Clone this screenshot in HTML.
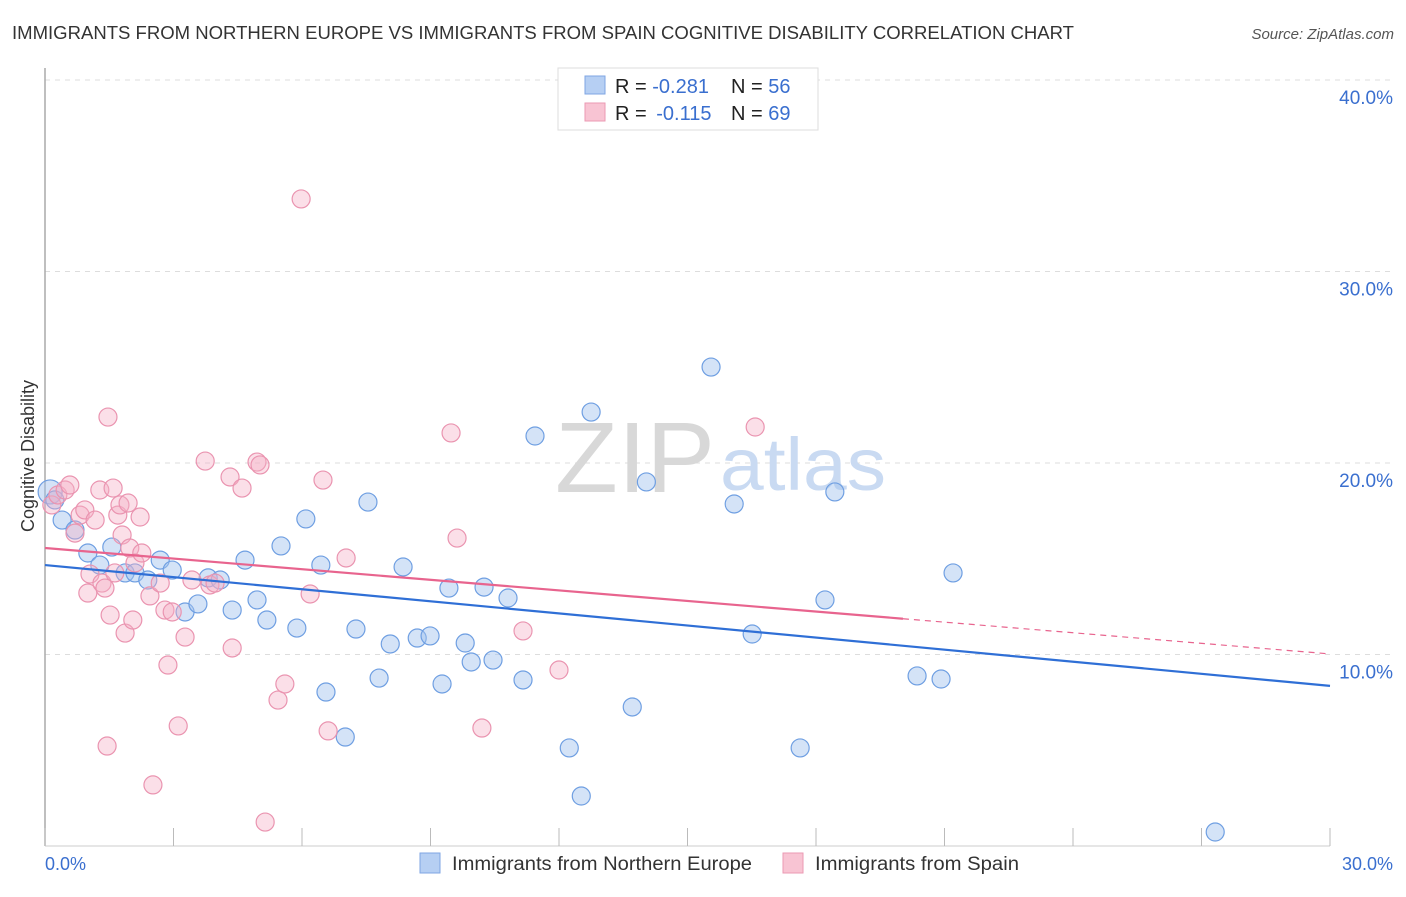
<!DOCTYPE html>
<html><head><meta charset="utf-8"><style>
body{margin:0;background:#fff;font-family:"Liberation Sans",sans-serif;}
svg text{font-family:"Liberation Sans",sans-serif;}
</style></head><body>
<svg id="chart" width="1406" height="892" viewBox="0 0 1406 892" xmlns="http://www.w3.org/2000/svg">
<text x="12" y="39" font-size="18" fill="#333" textLength="1062" lengthAdjust="spacingAndGlyphs">IMMIGRANTS FROM NORTHERN EUROPE VS IMMIGRANTS FROM SPAIN COGNITIVE DISABILITY CORRELATION CHART</text>
<text x="1394" y="39" font-size="15" fill="#555" font-style="italic" text-anchor="end">Source: ZipAtlas.com</text>
<g id="grid"></g>
<g id="watermark">
<text x="555" y="492" font-size="100" font-family="Liberation Serif" fill="#d8d8d8" textLength="160" lengthAdjust="spacingAndGlyphs">ZIP</text>
<text x="720" y="490" font-size="74" fill="#c9daf2" textLength="166" lengthAdjust="spacingAndGlyphs">atlas</text>
</g>
<line x1="45" y1="68" x2="45" y2="846" stroke="#aaa" stroke-width="1.5"/>
<line x1="45" y1="846" x2="1330" y2="846" stroke="#ccc" stroke-width="1"/>
<g id="xticks"></g>
<g id="yticks"></g>
<text x="34" y="456" font-size="18" fill="#333" text-anchor="middle" transform="rotate(-90 34 456)">Cognitive Disability</text>
<text x="45" y="870" font-size="18" fill="#3a6fcf">0.0%</text>
<text x="1393" y="870" font-size="18" fill="#3a6fcf" text-anchor="end">30.0%</text>
<g id="points"></g>
<g id="trends"></g>
<g>
<rect x="558" y="68" width="260" height="62" fill="#fff" stroke="#ddd"/>
<rect x="585" y="76" width="20" height="18" fill="#b6cff3" stroke="#7fa6e3"/>
<rect x="585" y="103" width="20" height="18" fill="#f8c4d3" stroke="#eb9ab3"/>
<text x="615" y="93" font-size="20" fill="#222">R = <tspan fill="#3a6fcf">-0.281</tspan><tspan x="731">N = </tspan><tspan fill="#3a6fcf">56</tspan></text>
<text x="615" y="120" font-size="20" fill="#222">R = <tspan fill="#3a6fcf" dx="4">-0.115</tspan><tspan x="731">N = </tspan><tspan fill="#3a6fcf">69</tspan></text>
</g>
<g>
<rect x="420" y="853" width="20" height="20" fill="#b6cff3" stroke="#7fa6e3"/>
<text x="452" y="870" font-size="19" fill="#333" textLength="300" lengthAdjust="spacingAndGlyphs">Immigrants from Northern Europe</text>
<rect x="783" y="853" width="20" height="20" fill="#f8c4d3" stroke="#eb9ab3"/>
<text x="815" y="870" font-size="19" fill="#333" textLength="204" lengthAdjust="spacingAndGlyphs">Immigrants from Spain</text>
</g>
</svg>
<script>
const yTicks=[10,20,30,40];
const yTickLabels=["10.0%","20.0%","30.0%","40.0%"];
const xTicks=[0,3,6,9,12,15,18,21,24,27,30];
const blueX=[0.12,0.23,0.40,0.70,1.00,1.28,1.56,1.87,2.10,2.40,2.69,2.97,3.27,3.57,3.81,4.09,4.37,4.67,4.95,5.18,5.51,5.88,6.09,6.44,6.56,7.01,7.26,7.54,7.80,8.06,8.36,8.69,8.99,9.27,9.43,9.81,9.95,10.25,10.46,10.81,11.16,11.44,12.24,12.52,12.75,13.71,14.04,15.55,16.09,16.51,17.63,18.21,18.44,20.36,20.92,21.20,27.32];
const blueY=[18.49,18.07,17.02,16.50,15.30,14.67,15.61,14.26,14.26,13.89,14.93,14.41,12.22,12.64,14.00,13.89,12.32,14.93,12.85,11.80,15.67,11.38,17.08,14.67,8.04,5.69,11.33,17.96,8.77,10.55,14.57,10.86,10.97,8.46,13.47,10.60,9.61,13.52,9.71,12.95,8.67,21.41,5.12,2.61,22.66,7.26,19.01,25.01,17.86,11.07,5.12,12.85,18.49,8.88,8.72,14.26,0.73];
const pinkX=[0.16,0.30,0.47,0.58,0.70,0.82,0.93,1.00,1.05,1.17,1.28,1.33,1.40,1.47,1.52,1.59,1.63,1.70,1.75,1.80,1.87,1.94,1.98,2.05,2.10,2.22,2.26,2.45,2.52,2.69,2.80,2.87,2.97,3.11,3.27,3.43,3.74,3.85,3.97,4.32,4.37,4.60,4.95,5.02,5.14,5.44,5.60,5.98,6.19,6.49,6.61,7.03,9.48,9.62,10.20,11.16,12.00,16.58,1.45];
const pinkY=[17.81,18.33,18.59,18.85,16.34,17.28,17.55,13.21,14.20,17.02,18.59,13.73,13.47,22.40,12.06,18.69,14.26,17.28,17.81,16.24,11.12,17.91,15.56,11.80,14.78,17.18,15.30,13.06,3.19,13.73,12.32,9.45,12.22,6.27,10.91,13.89,20.10,13.63,13.73,19.27,10.34,18.69,20.05,19.90,1.25,7.62,8.46,33.79,13.16,19.11,6.01,15.04,21.57,16.08,6.16,11.23,9.19,21.88,5.22];
const blueTrend=[14.67,8.36];
const pinkTrend=[15.56,10.03];
const pinkSolidEnd=20.03;
const NS="http://www.w3.org/2000/svg";
const xs=v=>45+v/30*1285;
const ys=v=>846-v*19.15;
function mk(tag,attrs,parent){const e=document.createElementNS(NS,tag);for(const k in attrs)e.setAttribute(k,attrs[k]);parent.appendChild(e);return e;}
const grid=document.getElementById('grid'),yt=document.getElementById('yticks'),xt=document.getElementById('xticks');
yTicks.forEach((t,i)=>{
 const l=mk('line',{x1:45,x2:1394,y1:ys(t),y2:ys(t),stroke:'#ddd','stroke-dasharray':'5,5'},grid);
 
 
 const tx=mk('text',{x:1393,y:ys(t)+24,'font-size':19,fill:'#3a6fcf','text-anchor':'end'},yt);
 tx.textContent=yTickLabels[i];
 
 
});
xTicks.forEach(t=>{
 const l=mk('line',{x1:xs(t),x2:xs(t),y1:828,y2:846,stroke:'#bbb'},xt);
 
 
});
const pts=document.getElementById('points');
blueX.forEach((x,i)=>{
 const c=mk('circle',{cx:xs(x),cy:ys(blueY[i]),r:i==0?12:9,fill:'rgba(160,192,238,0.45)',stroke:'#6f9fe2','stroke-width':1.2},pts);
 
 
});
pinkX.forEach((x,i)=>{
 const c=mk('circle',{cx:xs(x),cy:ys(pinkY[i]),r:9,fill:'rgba(244,176,198,0.4)',stroke:'#ea94b0','stroke-width':1.2},pts);
 
 
});
const tr=document.getElementById('trends');
const bl=mk('line',{x1:xs(0),y1:ys(blueTrend[0]),x2:xs(30),y2:ys(blueTrend[1]),stroke:'#2f6fd6','stroke-width':2.2},tr);


const pAt=x=>pinkTrend[0]+(pinkTrend[1]-pinkTrend[0])*x/30;
const pl=mk('line',{x1:xs(0),y1:ys(pinkTrend[0]),x2:xs(pinkSolidEnd),y2:ys(pAt(pinkSolidEnd)),stroke:'#e8648e','stroke-width':2.2},tr);


const pd=mk('line',{x1:xs(pinkSolidEnd),y1:ys(pAt(pinkSolidEnd)),x2:xs(30),y2:ys(pinkTrend[1]),stroke:'#e8648e','stroke-width':1.2,'stroke-dasharray':'6,5'},tr);


</script>
</body></html>
